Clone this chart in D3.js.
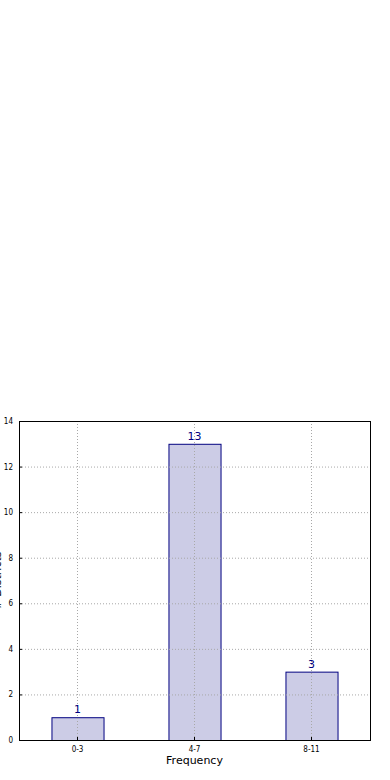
<!DOCTYPE html>
<html>
<head>
<meta charset="utf-8">
<script src="https://cdn.jsdelivr.net/npm/d3@7"></script>
<style>
  html, body { margin: 0; padding: 0; background: #fff; }
  svg { display: block; font-family: "DejaVu Sans", sans-serif; }
</style>
</head>
<body>
<svg id="chart" width="390" height="780"></svg>
<script>
// Frequency bins and number of districts in each
const categories = ["0-3", "4-7", "8-11"];
const counts = [1, 13, 3];
const yTicks = [0, 2, 4, 6, 8, 10, 12, 14];

const svg = d3.select("#chart");
const margin = { left: 19, right: 20, top: 421, bottom: 40 };
const W = 390, H = 780;
const plotW = W - margin.left - margin.right;
const plotH = H - margin.top - margin.bottom;

const g = svg.append("g").attr("transform", `translate(${margin.left},${margin.top})`);

const x = d3.scaleBand().domain(categories).range([0, plotW]).paddingInner(0).paddingOuter(0);
const y = d3.scaleLinear().domain([0, 14]).range([plotH, 0]);
const barW = x.bandwidth() * 0.445;

// Bars
g.append("g").selectAll("rect").data(categories).join("rect")
  .attr("x", d => x(d) + x.bandwidth() / 2 - barW / 2 + 0.5)
  .attr("y", (d, i) => y(counts[i]) + 0.5)
  .attr("width", barW)
  .attr("height", (d, i) => y(0) - y(counts[i]))
  .attr("fill", "rgba(0,0,128,0.2)")
  .attr("stroke", "#000080").attr("stroke-width", 1);

// Dotted grid lines, drawn above the bars
g.append("g").selectAll("line").data(yTicks).join("line")
  .attr("x1", 0).attr("x2", plotW)
  .attr("y1", d => y(d) + 0.5).attr("y2", d => y(d) + 0.5)
  .attr("stroke", "#a8a8a8").attr("stroke-width", 1)
  .attr("stroke-dasharray", "1,2");
g.append("g").selectAll("line").data(categories).join("line")
  .attr("x1", d => x(d) + x.bandwidth() / 2).attr("x2", d => x(d) + x.bandwidth() / 2)
  .attr("y1", 0).attr("y2", plotH)
  .attr("stroke", "#a8a8a8").attr("stroke-width", 1)
  .attr("stroke-dasharray", "1,2");

// Value labels
g.append("g").selectAll("text").data(categories).join("text")
  .attr("x", d => x(d) + x.bandwidth() / 2)
  .attr("y", (d, i) => y(counts[i]) - 4)
  .attr("text-anchor", "middle")
  .attr("font-size", 11)
  .attr("fill", "#000080")
  .text((d, i) => counts[i]);

// Axes
const yAxis = d3.axisLeft(y).tickValues(yTicks).tickSize(-3).tickPadding(6).tickFormat(d3.format("d"));
const xAxis = d3.axisBottom(x).tickSize(-3).tickPadding(6);

const ya = g.append("g").call(yAxis);
ya.select(".domain").remove();
ya.selectAll("text").attr("font-size", 8).attr("fill", "#000").attr("font-family", "'Liberation Sans Narrow', 'DejaVu Sans Condensed', sans-serif");
ya.selectAll("line").attr("stroke", "#000");

const xa = g.append("g").attr("transform", `translate(0,${plotH})`).call(xAxis);
xa.select(".domain").remove();
xa.selectAll("text").attr("font-size", 8).attr("fill", "#000").attr("font-family", "'Liberation Sans Narrow', 'DejaVu Sans Condensed', sans-serif");
xa.selectAll("line").attr("stroke", "#000");

// Frame
g.append("rect")
  .attr("x", 0.5).attr("y", 0.5)
  .attr("width", plotW).attr("height", plotH)
  .attr("fill", "none").attr("stroke", "#000").attr("stroke-width", 1);

// Axis titles
svg.append("text")
  .attr("x", margin.left + plotW / 2).attr("y", 764)
  .attr("text-anchor", "middle").attr("font-size", 11).attr("fill", "#000")
  .text("Frequency");

svg.append("text")
  .attr("transform", `translate(1,${margin.top + plotH / 2}) rotate(-90)`)
  .attr("text-anchor", "middle").attr("font-size", 11).attr("fill", "#000")
  .text("# Districts");
</script>
</body>
</html>
